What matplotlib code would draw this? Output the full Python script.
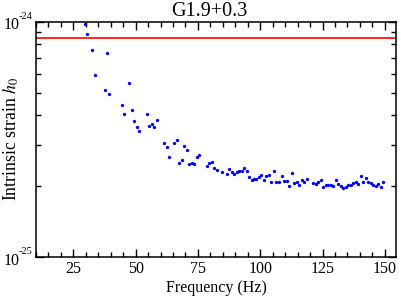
import matplotlib
matplotlib.use("Agg")
import matplotlib.pyplot as plt
import matplotlib.ticker as mticker
import numpy as np

plt.rcParams['font.family'] = ['Liberation Serif', 'DejaVu Serif']
plt.rcParams['mathtext.fontset'] = 'stix'

# frequency (Hz) and intrinsic strain upper limits
freq = [29.6, 30.5, 32.5, 33.6, 37.6, 38.4, 39.4, 44.5, 45.5, 47.5,
        48.7, 49.5, 50.4, 51.5, 54.4, 55.5, 56.4, 57.4, 58.4, 61.5,
        62.4, 63.5, 65.5, 66.5, 67.5, 68.6, 69.5, 70.6, 71.5, 72.5,
        73.5, 74.5, 75.5, 78.6, 79.5, 80.5, 81.5, 82.5, 84.5, 86.5,
        87.5, 88.5, 89.4, 90.5, 91.5, 92.5, 93.5, 94.5, 95.5, 96.5,
        97.6, 98.5, 99.6, 100.5, 101.5, 102.5, 103.5, 104.5, 105.5, 106.5,
        107.5, 108.6, 109.5, 110.6, 111.5, 112.6, 113.5, 114.6, 115.5, 116.6,
        117.5, 118.6, 121.3, 122.2, 123.2, 124.3, 125.2, 126.3, 127.4, 128.3,
        129.3, 130.3, 131.4, 132.3, 133.4, 134.3, 135.4, 136.4, 137.3, 138.4,
        139.4, 140.4, 141.3, 142.4, 143.4, 144.4, 145.3, 146.4, 147.3, 148.3,
        149.3]
h0 = [9.78, 8.84, 7.60, 5.92, 5.13, 7.34, 4.93, 4.44, 4.06, 5.49,
      4.23, 3.77, 3.57, 3.44, 4.04, 3.61, 3.66, 3.57, 3.83, 3.04,
      2.93, 2.66, 3.04, 3.13, 2.52, 2.59, 2.96, 2.86, 2.49, 2.50,
      2.48, 2.65, 2.71, 2.44, 2.50, 2.53, 2.40, 2.35, 2.30, 2.25,
      2.36, 2.30, 2.26, 2.30, 2.32, 2.33, 2.38, 2.32, 2.18, 2.12,
      2.14, 2.15, 2.19, 2.24, 2.12, 2.21, 2.23, 2.09, 2.32, 2.08,
      2.08, 2.21, 2.10, 2.10, 2.00, 2.27, 2.07, 2.09, 2.03, 2.13,
      2.08, 2.15, 2.07, 2.04, 2.08, 2.12, 1.99, 2.03, 2.03, 2.02,
      2.00, 2.12, 2.04, 2.00, 1.96, 1.99, 2.03, 2.03, 2.06, 2.08,
      2.04, 2.20, 2.09, 2.17, 2.08, 2.06, 2.03, 2.00, 2.05, 1.98,
      2.09]
h0 = np.array(h0) * 1e-25
h_limit = 8.5e-25
ymin, ymax = 1e-25, 1e-24

fig = plt.figure(figsize=(3.99, 2.97), dpi=100)
ax = fig.add_axes([0.0902, 0.1347, 0.9023, 0.7923])

ax.axhline(h_limit, color='red', lw=1.2)
ax.plot(freq, h0, 'o', color='blue', markersize=2.4, markeredgewidth=0)

ax.set_yscale('log')
ax.set_ylim(ymin, ymax)
ax.set_xlim(10, 154.5)

ax.xaxis.set_major_locator(mticker.MultipleLocator(25))
ax.xaxis.set_minor_locator(mticker.MultipleLocator(5))
ax.xaxis.set_major_formatter(mticker.FuncFormatter(lambda v, p: '%d' % v if v >= 25 else ''))
ax.yaxis.set_major_locator(mticker.FixedLocator([ymin, ymax]))
ax.yaxis.set_major_formatter(mticker.NullFormatter())
ax.yaxis.set_minor_locator(mticker.LogLocator(base=10, subs=np.arange(2, 10)))
ax.yaxis.set_minor_formatter(mticker.NullFormatter())

# y tick labels as "10" with a small superscript exponent
for v in [ymin, ymax]:
    ax.annotate('10', xy=(0, v), xycoords=('axes fraction', 'data'),
                xytext=(-12, -2.7), textcoords='offset points',
                ha='right', va='center', fontsize=11.5)
    ax.annotate('-%d' % round(-np.log10(v)), xy=(0, v), xycoords=('axes fraction', 'data'),
                xytext=(-12.3, 3.9), textcoords='offset points',
                ha='left', va='center', fontsize=7.5)

ax.tick_params(which='both', direction='in', top=True, right=True, labelsize=11.5, width=1)
ax.tick_params(axis='x', pad=3)
ax.tick_params(which='major', length=6)
ax.tick_params(which='minor', length=3.5)
for s in ax.spines.values():
    s.set_linewidth(1.1)

ax.set_title('G1.9+0.3', fontsize=14.5, pad=4, x=0.48)
ax.set_xlabel('Frequency (Hz)', fontsize=11.5, labelpad=2)
ax.set_ylabel('Intrinsic strain $h_0$', fontsize=12.8)
ax.yaxis.set_label_coords(-0.043, 0.5)

fig.savefig('out.png', dpi=100)
